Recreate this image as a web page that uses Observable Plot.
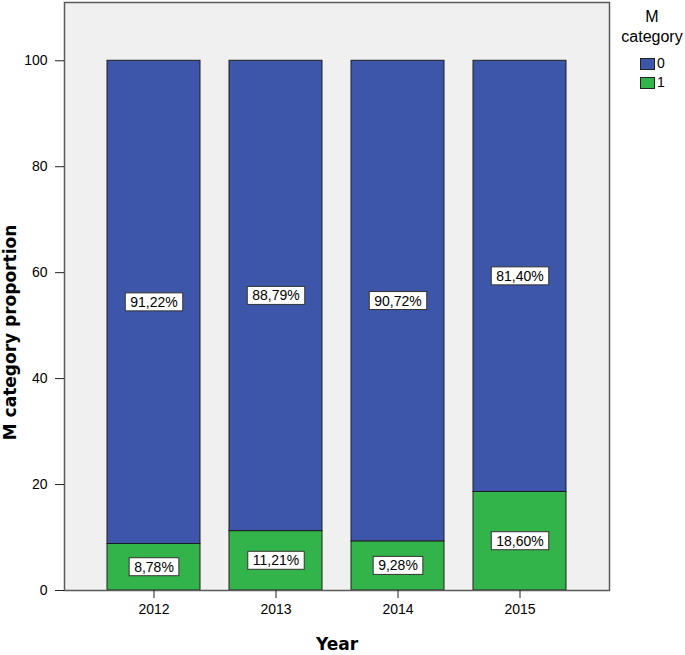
<!DOCTYPE html>
<html><head><meta charset="utf-8">
<script src="https://cdn.jsdelivr.net/npm/d3@7"></script>
<script src="https://cdn.jsdelivr.net/npm/@observablehq/plot@0.6"></script>
<style>
body{margin:0;background:#fff;font-family:"Liberation Sans",Arial,sans-serif;}
#wrap{position:relative;width:685px;height:655px;}
#wrap svg{position:absolute;left:0;top:0;}
.lg{position:absolute;color:#000;}
.sw{position:absolute;width:13px;height:10px;border:1px solid #222;}
</style></head><body><div id="wrap"></div>
<script>
const years = ["2012", "2013", "2014", "2015"];
const cat0 = [91.22, 88.79, 90.72, 81.40];
const cat1 = [8.78, 11.21, 9.28, 18.60];
const categories = ["0", "1"];
const colors = ["#3d56a9", "#33b44a"];
const yTicks = [0, 20, 40, 60, 80, 100];

const data = years.flatMap((y, i) => [
  {year: y, cat: "1", value: cat1[i]},
  {year: y, cat: "0", value: cat0[i]}
]);
const fmt = v => v.toFixed(2).replace(".", ",") + "%";

const plot = Plot.plot({
  width: 685, height: 655,
  marginLeft: 64, marginRight: 76, marginTop: 2, marginBottom: 65,
  style: {fontFamily: "'Liberation Sans', Arial, sans-serif", fontSize: "14px", color: "#000", background: "transparent"},
  x: {domain: years, paddingInner: 0.238, paddingOuter: 0.344, label: null},
  y: {domain: [0, 111], label: null},
  color: {domain: categories, range: colors},
  marks: [
    Plot.frame({fill: "#f0f0f0", stroke: "none"}),
    Plot.barY(data, {x: "year", y: "value", fill: "cat", stroke: "#1e1e1e", strokeWidth: 1}),
    Plot.text(data, Plot.stackY({x: "year", y: "value", z: "cat", text: d => fmt(d.value), fontSize: 14, fill: "#000", className: "seglbl"})),
    Plot.frame({stroke: "#5a5a5a", strokeWidth: 1.5}),
    Plot.axisY({ticks: yTicks, tickSize: 9, tickPadding: 8, label: null, fontSize: 14, stroke: "#222"}),
    Plot.axisX({tickSize: 8, tickPadding: 6, label: null, fontSize: 14, stroke: "#222"}),
    Plot.text(["M category proportion"], {text: d => d, frameAnchor: "left", textAnchor: "middle", rotate: -90, dx: -54, dy: 36, fontWeight: "bold", fontSize: 17, fontFamily: "'DejaVu Sans', sans-serif"}),
    Plot.text(["Year"], {text: d => d, frameAnchor: "bottom", dy: 59, fontWeight: "bold", fontSize: 17, fontFamily: "'DejaVu Sans', sans-serif"})
  ]
});
const wrap = document.getElementById("wrap");
wrap.appendChild(plot);

// white boxes behind segment labels
plot.querySelectorAll(".seglbl text").forEach(t => {
  const b = t.getBBox();
  const r = document.createElementNS("http://www.w3.org/2000/svg", "rect");
  r.setAttribute("x", b.x - 5);
  r.setAttribute("y", b.y - 1);
  r.setAttribute("width", b.width + 10);
  r.setAttribute("height", b.height + 2);
  r.setAttribute("fill", "#fff");
  r.setAttribute("stroke", "#333");
  r.setAttribute("stroke-width", 1);
  if (t.getAttribute("transform")) r.setAttribute("transform", t.getAttribute("transform"));
  t.parentNode.insertBefore(r, t);
});

// legend
function addText(txt, left, top, size, center) {
  const d = document.createElement("div");
  d.className = "lg";
  d.textContent = txt;
  d.style.left = left + "px"; d.style.top = top + "px"; d.style.fontSize = size + "px";
  if (center) { d.style.width = "80px"; d.style.textAlign = "center"; }
  wrap.appendChild(d);
}
addText("M", 612, 8, 16, true);
addText("category", 612, 28, 16, true);
categories.forEach((c, i) => {
  const s = document.createElement("div");
  s.className = "sw";
  s.style.left = "640px"; s.style.top = (58 + i * 19) + "px";
  s.style.background = colors[i];
  wrap.appendChild(s);
  addText(c, 657, 55 + i * 19, 14, false);
});
</script></body></html>
